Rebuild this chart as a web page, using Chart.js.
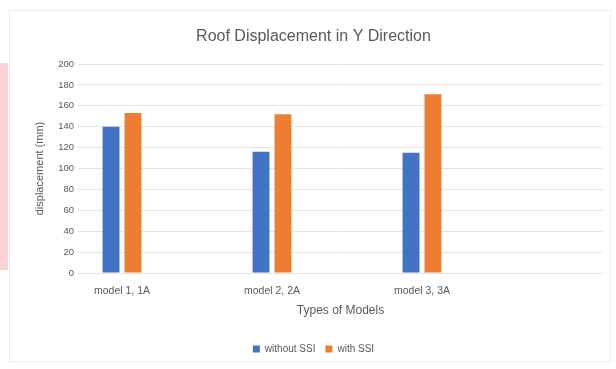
<!DOCTYPE html>
<html>
<head>
<meta charset="utf-8">
<script src="https://cdn.jsdelivr.net/npm/chart.js@4/dist/chart.umd.min.js"></script>
<style>
  html, body { margin: 0; padding: 0; background: #ffffff; }
  #wrap { position: relative; width: 616px; height: 369px; overflow: hidden; }
  #edge { position: absolute; left: 0; top: 63px; width: 8px; height: 207px; background: #fbd3d3; }
  #frame { position: absolute; left: 9px; top: 10px; width: 602px; height: 352px; border: 1px solid #ececec; box-sizing: border-box; }
  #chart { position: absolute; left: 0; top: 0; }
</style>
</head>
<body>
<div id="wrap">
  <div id="edge"></div>
  <div id="frame"></div>
  <canvas id="chart" width="616" height="369"></canvas>
</div>
<script>
// Model categories and roof displacement (mm) for each case
const categories = ['model 1, 1A', 'model 2, 2A', 'model 3, 3A'];
const withoutSSI = [140, 116, 115];
const withSSI = [153, 152, 171];
const seriesNames = ['without SSI', 'with SSI'];
const yTicks = [0, 20, 40, 60, 80, 100, 120, 140, 160, 180, 200];

const FONT = "'Liberation Sans', Arial, sans-serif";
const TEXT = '#595959';

const toPoints = vals => vals.map((v, i) => ({ x: i, y: v }));

new Chart(document.getElementById('chart'), {
  type: 'bar',
  data: {
    datasets: [
      { label: seriesNames[0], data: toPoints(withoutSSI), backgroundColor: '#4472C4',
        categoryPercentage: 0.293, barPercentage: 0.77 },
      { label: seriesNames[1], data: toPoints(withSSI), backgroundColor: '#ED7D31',
        categoryPercentage: 0.293, barPercentage: 0.77 }
    ]
  },
  options: {
    responsive: false,
    animation: false,
    layout: { padding: { top: 20, left: 24, right: 13, bottom: 5 } },
    plugins: {
      title: {
        display: true,
        text: 'Roof Displacement in Y Direction',
        color: TEXT,
        font: { family: FONT, size: 16, weight: 'normal' },
        padding: { top: 7.4, bottom: 17.4 }
      },
      legend: {
        position: 'bottom',
        labels: {
          color: TEXT,
          font: { family: FONT, size: 10 },
          boxWidth: 7,
          boxHeight: 7,
          padding: 10
        }
      },
      tooltip: { enabled: false }
    },
    scales: {
      x: {
        type: 'linear',
        offset: false,
        min: -0.2933,
        max: 3.2067,
        afterBuildTicks: scale => { scale.ticks = categories.map((c, i) => ({ value: i })); },
        afterFit: scale => { scale.height = 61; },
        grid: { display: false, drawTicks: false },
        border: { display: false },
        ticks: {
          autoSkip: false,
          maxRotation: 0,
          padding: 11.7,
          color: TEXT,
          font: { family: FONT, size: 10.5 },
          callback: v => categories[v] ?? ''
        },
        title: {
          display: true,
          text: 'Types of Models',
          color: TEXT,
          font: { family: FONT, size: 12 },
          padding: { top: 0, bottom: 16.3 }
        }
      },
      y: {
        min: 0,
        max: 200,
        afterBuildTicks: scale => { scale.ticks = yTicks.map(v => ({ value: v })); },
        afterFit: scale => { scale.width = 54; },
        grid: { color: '#e4e4e4', drawTicks: false },
        border: { display: false },
        ticks: {
          padding: 4,
          color: TEXT,
          font: { family: FONT, size: 9.5 }
        },
        title: {
          display: true,
          text: 'displacement (mm)',
          color: TEXT,
          font: { family: FONT, size: 11 },
          padding: { top: 9.4, bottom: 0 }
        }
      }
    }
  }
});
</script>
</body>
</html>
